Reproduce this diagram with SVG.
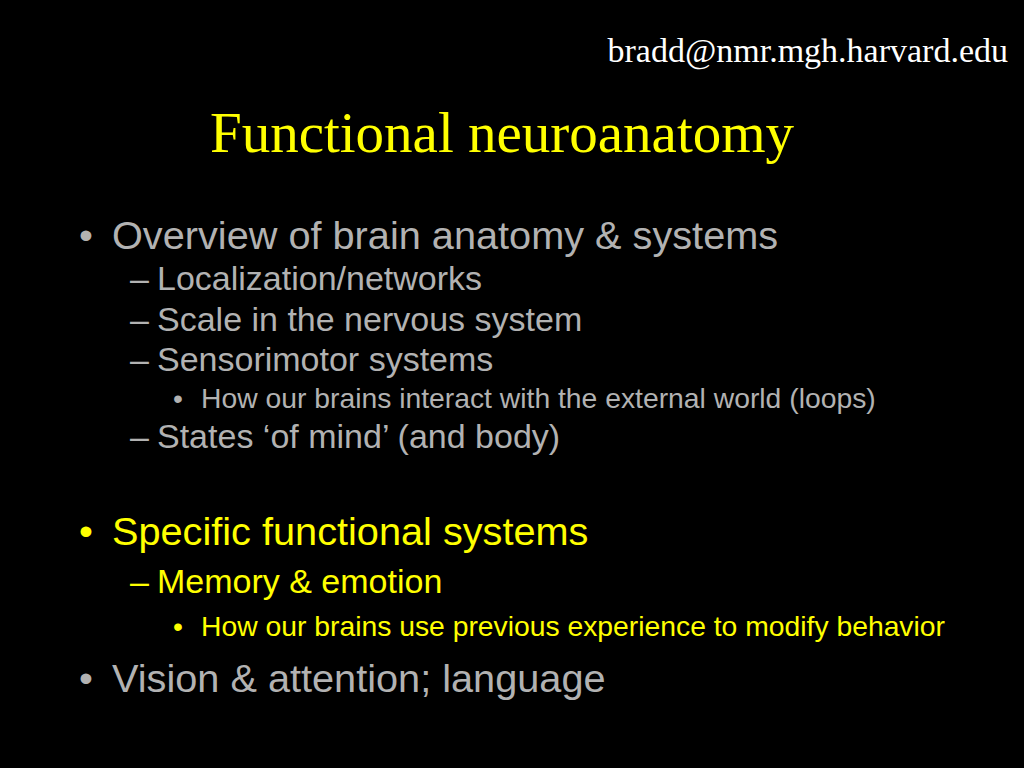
<svg xmlns="http://www.w3.org/2000/svg" width="1024" height="768" viewBox="0 0 1024 768">
<style>
.serif{font-family:"Liberation Serif","Times New Roman",serif}
.sans{font-family:"Liberation Sans",Arial,sans-serif}
.gray{fill:#B2B2B2}
.yel{fill:#FFFF00}
.l1{font-size:39.7px}
.l2{font-size:34px}
.l3{font-size:28.3px}
</style>
<rect x="0" y="0" width="1024" height="768" fill="#000"/>
<text class="serif" x="1008" y="62" font-size="34" fill="#fff" text-anchor="end">bradd@nmr.mgh.harvard.edu</text>
<text class="serif yel" x="502" y="152" font-size="57" text-anchor="middle">Functional neuroanatomy</text>
<g class="sans">
<g class="gray">
<text class="l1" x="79" y="249">•</text>
<text class="l1" x="112" y="249">Overview of brain anatomy &amp; systems</text>
<text class="l2" x="130" y="290">–</text><text class="l2" x="157" y="290">Localization/networks</text>
<text class="l2" x="130" y="331">–</text><text class="l2" x="157" y="331">Scale in the nervous system</text>
<text class="l2" x="130" y="371">–</text><text class="l2" x="157" y="371">Sensorimotor systems</text>
<text class="l3" x="173" y="408">•</text><text class="l3" x="201" y="408">How our brains interact with the external world (loops)</text>
<text class="l2" x="130" y="448">–</text><text class="l2" x="157" y="448">States ‘of mind’ (and body)</text>
</g>
<g class="yel">
<text class="l1" x="79" y="545">•</text>
<text class="l1" x="112" y="545">Specific functional systems</text>
<text class="l2" x="130" y="593">–</text><text class="l2" x="157" y="593">Memory &amp; emotion</text>
<text class="l3" x="173" y="636">•</text><text class="l3" x="201" y="636">How our brains use previous experience to modify behavior</text>
</g>
<g class="gray">
<text class="l1" x="79" y="692">•</text>
<text class="l1" x="112" y="692">Vision &amp; attention; language</text>
</g>
</g>
</svg>
